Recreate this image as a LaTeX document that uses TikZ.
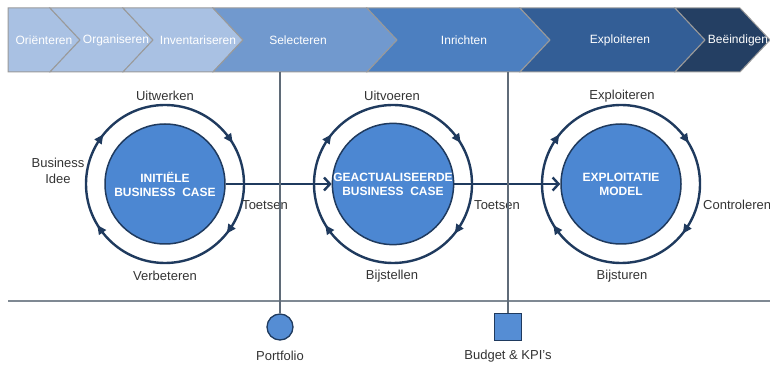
\documentclass[tikz,border=0pt]{standalone}
\usepackage{fontspec}
\setmainfont{Liberation Sans}
\usetikzlibrary{arrows.meta}
\definecolor{licht}{HTML}{A9C1E3}
\definecolor{midden}{HTML}{7199CE}
\definecolor{inricht}{HTML}{4C7FC0}
\definecolor{donker}{HTML}{335E96}
\definecolor{nacht}{HTML}{243F63}
\definecolor{rand}{HTML}{9A9A9A}
\definecolor{navy}{HTML}{1F3A5E}
\definecolor{kernblauw}{HTML}{4C87D2}
\definecolor{tekstgrijs}{HTML}{333333}
\definecolor{steelgrijs}{HTML}{5F6B78}
\begin{document}
\begin{tikzpicture}[x=1pt,y=1pt,>=Straight Barb]
        \tikzstyle{every node}=[font=\fontsize{13}{16}\selectfont,text=tekstgrijs,align=center]
        \tikzstyle{fase}=[text=white,font=\fontsize{12}{14}\selectfont]
        \tikzstyle{kern}=[circle,minimum size=120pt,inner sep=0pt,fill=kernblauw,draw=navy,line width=1.5pt,text=white,font=\fontsize{12}{14}\selectfont\bfseries]
        \tikzstyle{ring}=[draw=navy,line width=2.4pt]
        \tikzstyle{flow}=[draw=navy,line width=2.4pt,-{Straight Barb[length=6pt,width=13pt]}]
        \tikzstyle{stem}=[draw=steelgrijs,line width=1.2pt]
        \tikzstyle{meter}=[fill=kernblauw!95!white,draw=navy,line width=1.3pt,inner sep=0pt]
        \newcommand\fase[4]{
            \filldraw[fill=#3,draw=rand,line width=1pt]
            (#1,356)--(#2,356)--(#2+30,324)--(#2,292)--(#1,292)--(#1+30,324)--cycle;
        }
        \newcommand\kringloop[1]{
            \draw[ring] (#1) circle[radius=79];
            \foreach \a in {145,35,-35,-145}
                \fill[navy,shift={(#1)},rotate=\a] (83.5,4)--(74.5,4)--(79,-5)--cycle;
        }
        \useasboundingbox(0,0)rectangle(770,364);
        % fasenbalk
        \filldraw[fill=licht,draw=rand,line width=1pt](8,356)--(50,356)--(80,324)--(50,292)--(8,292)--cycle;
        \fase{50}{123}{licht}{}
        \fase{123}{213}{licht}{}
        \fase{213}{367}{midden}{}
        \fase{367}{520}{inricht}{}
        \fase{520}{675}{donker}{}
        \fase{675}{740}{nacht}{}
        \foreach \x/\t/\n in {44/Oriënteren/f1,116/Organiseren/f2,198/Inventariseren/f3,298/Selecteren/f4,
            464/Inrichten/f5,620/Exploiteren/f6,738/Beëindigen/f7}
            \node[fase] (\n) at (\x,324) {\t};
        % kringlopen
        \node[kern] (initieel) at (165,180) {INITIËLE\\BUSINESS\ \ CASE};
        \node[kern] (actueel) at (393,180) {GEACTUALISEERDE\\BUSINESS\ \ CASE};
        \node[kern] (model) at (621,180) {EXPLOITATIE\\MODEL};
        \kringloop{initieel}
        \kringloop{actueel}
        \kringloop{model}
        \draw[flow] (initieel.east)--(actueel.west);
        \draw[flow] (actueel.east)--(model.west);
        \node (uitwerken) at (165,268) {Uitwerken};
        \node (verbeteren) at (165,88) {Verbeteren};
        \node (idee) at (58,193) {Business\\Idee};
        \node (toets1) at (265,159) {Toetsen};
        \node (uitvoeren) at (392,268) {Uitvoeren};
        \node (bijstellen) at (392,88) {Bijstellen};
        \node (toets2) at (497,159) {Toetsen};
        \node (exploiteren) at (622,268) {Exploiteren};
        \node (bijsturen) at (622,88) {Bijsturen};
        \node[anchor=west,inner sep=0pt] (controleren) at (703,159) {Controleren};
        % meetpunten
        \draw[draw=steelgrijs!80!white,line width=1.5pt](8,63)--(770,63);
        \node[meter,circle,minimum size=26pt] (portfolio) at (280,37) {};
        \node[meter,minimum size=27pt] (budget) at (508,37) {};
        \coordinate (selvoet) at (280,292);
        \coordinate (inrvoet) at (508,292);
        \draw[stem] (selvoet)--(portfolio);
        \draw[stem] (inrvoet)--(budget);
        \node (portlabel) at (280,8) {Portfolio};
        \node (budgetlabel) at (508,8) {Budget \& KPI's};
\end{tikzpicture}
\end{document}
